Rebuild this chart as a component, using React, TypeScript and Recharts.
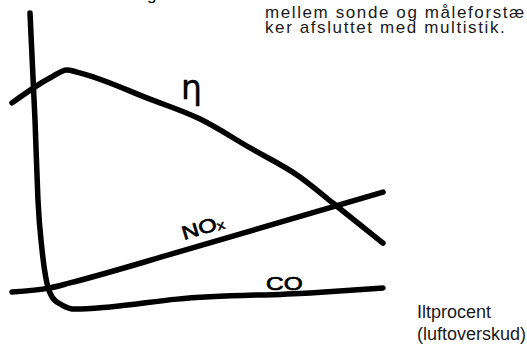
import { LineChart, Line, XAxis, YAxis } from "recharts"

// qualitative chart: both axes in relative units 0-100, no ticks
const CO_X = [4.85, 6.2, 7.0, 8.1, 9.4, 10.8, 13.5, 17.0, 26.4, 44.5, 80.3, 100]
const CO_Y = [100, 65.6, 39.9, 23.8, 13.2, 8.7, 6.1, 4.8, 5.5, 8.0, 10.0, 11.6]

const NOX_X = [0, 10.2, 15.6, 44.5, 100]
const NOX_Y = [10.3, 11.6, 13.2, 23.0, 42.4]

const ETA_X = [0, 10.2, 14.8, 17.5, 37.2, 50.7, 64.2, 77.6, 86.5, 100]
const ETA_Y = [71.1, 79.1, 81.7, 81.0, 72.3, 65.9, 56.6, 47.3, 38.9, 26.0]

const NOTE_LINES = ["mellem sonde og måleforstæ", "ker afsluttet med multistik."]
const AXIS_LABEL = ["Iltprocent", "(luftoverskud)"]

const toPoints = (xs: number[], ys: number[]) => xs.map((x, i) => ({ x, y: ys[i] }))

const SERIES = [
  { key: "co", points: toPoints(CO_X, CO_Y) },
  { key: "nox", points: toPoints(NOX_X, NOX_Y) },
  { key: "eta", points: toPoints(ETA_X, ETA_Y) },
]

const FONT = "'Liberation Sans', Arial, sans-serif"

export default function App() {
  return (
    <div style={{ position: "absolute", left: 0, top: 0, width: 527, height: 347, background: "#fff" }}>
      <LineChart width={527} height={347} margin={{ top: 13, right: 144, bottom: 23, left: 12 }}>
        <XAxis
          type="number"
          dataKey="x"
          domain={[0, 100]}
          height={0}
          tick={false}
          tickLine={false}
          axisLine={{ stroke: "#000", strokeWidth: 1.3 }}
        />
        <YAxis
          type="number"
          dataKey="y"
          domain={[0, 100]}
          width={0}
          tick={false}
          tickLine={false}
          axisLine={{ stroke: "#000", strokeWidth: 1.3 }}
        />
        {SERIES.map(({ key, points }) => (
          <Line
            key={key}
            data={points}
            dataKey="y"
            type="monotone"
            stroke="#000"
            strokeWidth={5.5}
            strokeLinecap="round"
            strokeLinejoin="round"
            dot={false}
            activeDot={false}
            isAnimationActive={false}
          />
        ))}
      </LineChart>
      <svg width={527} height={347} style={{ position: "absolute", left: 0, top: 0, pointerEvents: "none" }}>
        <g fontFamily={FONT} fill="#000">
          <text x={147} y={0} fontSize={17}>g</text>
          {NOTE_LINES.map((t, i) => (
            <text key={t} x={265} y={18 + i * 15} fontSize={17} letterSpacing={1.6} fill="#1a1a1a">{t}</text>
          ))}
          {AXIS_LABEL.map((t, i) => (
            <text key={t} x={417} y={318 + i * 22} fontSize={18} fill="#1a1a1a">{t}</text>
          ))}
          <text transform="translate(266,290) scale(1.32,1)" fontSize={18.5} stroke="#000" strokeWidth={0.7}>CO</text>
          <text transform="translate(184,240) rotate(-17) scale(1.25,1)" fontSize={19} stroke="#000" strokeWidth={0.7}>
            NO<tspan fontSize={12.5} dy={1} strokeWidth={0.5}>x</tspan>
          </text>
          <text x={181} y={99} fontSize={33} fontFamily="'DejaVu Sans', sans-serif" stroke="#000" strokeWidth={0.4}>η</text>
        </g>
      </svg>
    </div>
  )
}
